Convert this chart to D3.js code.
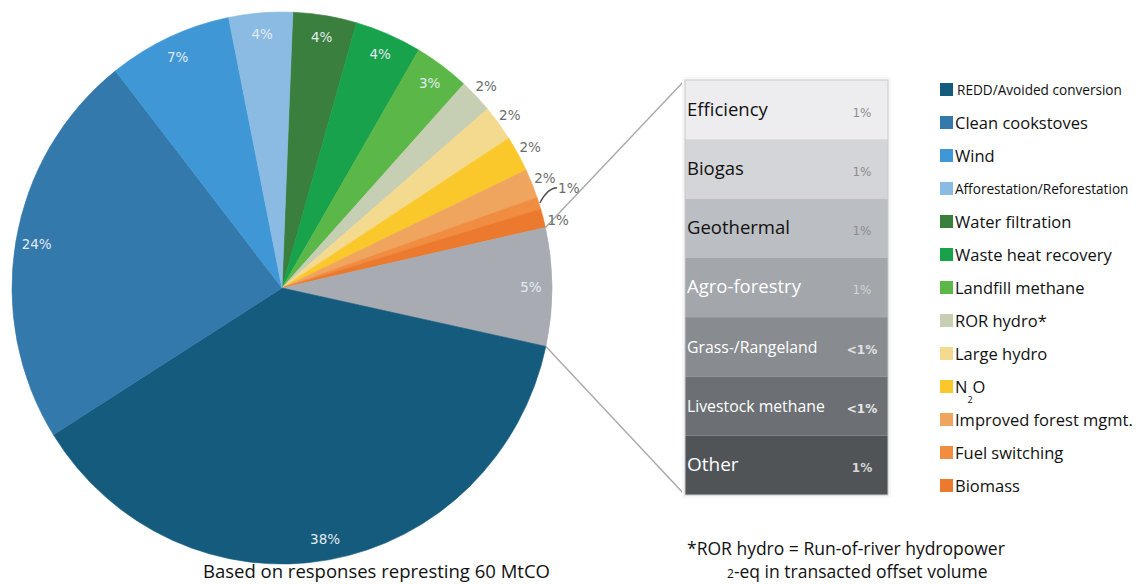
<!DOCTYPE html>
<html>
<head>
<meta charset="utf-8">
<script src="https://cdn.jsdelivr.net/npm/d3@7"></script>
<style>
  body { margin: 0; background: #fff; }
  svg { display: block; }
  text { font-family: "Open Sans", "Noto Sans", sans-serif; }
  .pct { font-family: "DejaVu Sans", Verdana, sans-serif; }
</style>
</head>
<body>
<svg></svg>
<script>
// pie slices, clockwise from 12 o'clock
var pieNames = ['Water filtration', 'Waste heat recovery', 'Landfill methane', 'ROR hydro*', 'Large hydro',
  'N2O', 'Improved forest mgmt.', 'Fuel switching', 'Biomass', 'Other types',
  'REDD/Avoided conversion', 'Clean cookstoves', 'Wind', 'Afforestation/Reforestation'];
var pieShares = [3.8, 4.0, 3.3, 2.0, 2.1, 2.1, 1.7, 0.7, 1.1, 6.9, 37.6, 23.3, 7.4, 3.8];
var pieLabels = ['4%', '4%', '3%', '2%', '2%', '2%', '2%', '1%', '1%', '5%', '38%', '24%', '7%', '4%'];
var pieColors = ['#3b7f3e', '#17a24b', '#5bb748', '#c6ceb4', '#f4da8e', '#fbc82c', '#f0a55e', '#f08d41',
  '#ec7a2e', '#a8abb1', '#145b7d', '#3479ac', '#3f98d5', '#8bbbe2'];
var outside = [false, false, false, true, true, true, true, true, true, false, false, false, false, false];

// legend order
var legendNames = ['REDD/Avoided conversion', 'Clean cookstoves', 'Wind', 'Afforestation/Reforestation',
  'Water filtration', 'Waste heat recovery', 'Landfill methane', 'ROR hydro*', 'Large hydro', 'N2O',
  'Improved forest mgmt.', 'Fuel switching', 'Biomass'];

// breakdown of the grey slice
var otherNames = ['Efficiency', 'Biogas', 'Geothermal', 'Agro-forestry', 'Grass-/Rangeland', 'Livestock methane', 'Other'];
var otherLabels = ['1%', '1%', '1%', '1%', '<1%', '<1%', '1%'];
var otherColors = ['#ededf0', '#d3d5d8', '#bbbec2', '#a3a6ab', '#888c90', '#6c7074', '#515457'];

var width = 1144, height = 584;
var svg = d3.select('svg').attr('width', width).attr('height', height);

var cx = 282, cy = 288, rx = 270, ry = 276;
var k = ry / rx;
var start = 2.3 * Math.PI / 180;

var arcs = d3.pie().sort(null).value(d => d)
  .startAngle(start).endAngle(start + 2 * Math.PI)(pieShares);

var arc = d3.arc().innerRadius(0).outerRadius(rx);

function pos(a, r) {
  return [cx + r * Math.sin(a), cy - r * Math.cos(a) * k];
}

svg.append('g')
    .attr('transform', `translate(${cx},${cy}) scale(1,${k})`)
  .selectAll('path')
  .data(arcs)
  .enter()
  .append('path')
    .attr('d', arc)
    .attr('fill', (d, i) => pieColors[i])
    .attr('stroke', (d, i) => pieColors[i])
    .attr('stroke-width', 0.6);

// connector lines from the grey slice to the breakdown box
var grey = arcs[9];
var boxX = 685, boxW = 203;
var y = d3.scaleBand().domain(otherNames).range([80, 495]);
var pTop = pos(grey.startAngle, rx), pBot = pos(grey.endAngle, rx);
svg.append('line')
    .attr('x1', pTop[0]).attr('y1', pTop[1]).attr('x2', boxX).attr('y2', y.range()[0])
    .attr('stroke', '#a9a9a9').attr('stroke-width', 1.4);
svg.append('line')
    .attr('x1', pBot[0]).attr('y1', pBot[1]).attr('x2', boxX).attr('y2', y.range()[1])
    .attr('stroke', '#a9a9a9').attr('stroke-width', 1.4);

// slice labels
arcs.forEach(function(d, i) {
  var mid = (d.startAngle + d.endAngle) / 2;
  if (i === 7) {
    // fuel switching: label pulled out with a leader
    var p0 = pos(mid, rx + 1);
    var p1 = pos(mid - 0.03, rx + 22);
    svg.append('path')
        .attr('d', `M${p0[0]},${p0[1]} Q${p0[0] + 8},${p1[1]} ${p1[0]},${p1[1]}`)
        .attr('fill', 'none').attr('stroke', '#555').attr('stroke-width', 1.4);
    svg.append('text').attr('class', 'pct')
        .attr('x', p1[0] + 1).attr('y', p1[1] + 5)
        .attr('font-size', 13.5).attr('fill', '#6c6c6c')
        .text(pieLabels[i]);
    return;
  }
  var p = pos(i === 8 ? mid + 0.02 : mid, outside[i] ? 284 : 249);
  svg.append('text').attr('class', 'pct')
      .attr('x', p[0]).attr('y', p[1] + 5)
      .attr('text-anchor', 'middle')
      .attr('font-size', 13.5)
      .attr('fill', outside[i] ? '#6c6c6c' : '#e3ebf2')
      .text(pieLabels[i]);
});

// breakdown box
var box = svg.append('g');
box.append('rect')
    .attr('x', boxX - 3).attr('y', y.range()[0] - 3)
    .attr('width', boxW + 6).attr('height', y.range()[1] - y.range()[0] + 6)
    .attr('fill', '#f7f7f7');
var band = box.selectAll('.band')
  .data(otherNames)
  .enter()
  .append('g')
    .classed('band', true)
    .attr('transform', d => `translate(${boxX},${y(d)})`);
band.append('rect')
    .attr('width', boxW).attr('height', y.bandwidth())
    .attr('fill', (d, i) => otherColors[i]);
var nameSize = [18.5, 18.5, 18.5, 18.5, 15.8, 15.8, 19];
band.append('text')
    .attr('x', 2).attr('y', y.bandwidth() / 2 + 6)
    .attr('font-size', (d, i) => nameSize[i])
    .attr('fill', (d, i) => i < 3 ? '#111' : '#fff')
    .text(d => d);
var pctFill = ['#8d8d8d', '#8d8d8d', '#8d8d8d', '#d4d4d4', '#e2e2e2', '#e8e8e8', '#d8d8d8'];
band.append('text').attr('class', 'pct')
    .attr('x', 177).attr('y', y.bandwidth() / 2 + 7)
    .attr('text-anchor', 'middle')
    .attr('font-size', 12)
    .attr('font-weight', (d, i) => i >= 4 ? 'bold' : 'normal')
    .attr('fill', (d, i) => pctFill[i])
    .text((d, i) => otherLabels[i]);
box.append('rect')
    .attr('x', boxX).attr('y', y.range()[0])
    .attr('width', boxW).attr('height', y.range()[1] - y.range()[0])
    .attr('fill', 'none').attr('stroke', '#c9c9c9').attr('stroke-width', 1);

// legend
var ly = d3.scalePoint().domain(legendNames).range([90, 486]);
var legend = svg.selectAll('.legend')
  .data(legendNames)
  .enter()
  .append('g')
    .classed('legend', true)
    .attr('transform', d => `translate(940,${ly(d)})`);
legend.append('rect')
    .attr('y', -7).attr('width', 13).attr('height', 13)
    .attr('fill', d => pieColors[pieNames.indexOf(d)]);
legend.each(function(d) {
  var g = d3.select(this);
  var small = d === 'REDD/Avoided conversion' || d === 'Afforestation/Reforestation';
  var t = g.append('text')
      .attr('x', d === 'REDD/Avoided conversion' ? 17 : 15)
      .attr('y', small ? 5 : 6)
      .attr('font-size', small ? 13.6 : 16.5)
      .attr('fill', '#111');
  if (d === 'N2O') {
    t.append('tspan').text('N');
    t.append('tspan').attr('dy', 10).attr('font-size', 9).text('2');
    t.append('tspan').attr('dy', -10).text('O');
  } else {
    t.text(d);
  }
});

// notes
svg.append('text')
    .attr('x', 203).attr('y', 578)
    .attr('font-size', 18.5).attr('fill', '#111')
    .text('Based on responses represting 60 MtCO');
svg.append('text')
    .attr('x', 687).attr('y', 555)
    .attr('font-size', 17.5).attr('fill', '#111')
    .text('*ROR hydro = Run-of-river hydropower');
var note2 = svg.append('text')
    .attr('x', 727).attr('y', 578)
    .attr('font-size', 17.5).attr('fill', '#111');
note2.append('tspan').attr('font-size', 12).text('2');
note2.append('tspan').text('-eq in transacted offset volume');
</script>
</body>
</html>
